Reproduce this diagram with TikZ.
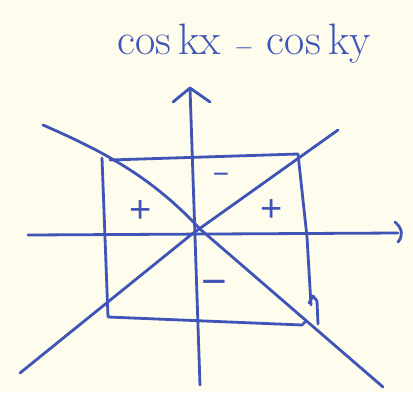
\documentclass[tikz,border=0pt]{standalone}
\usepackage{fontspec}
\newfontfamily\signfont{Liberation Sans}
\usetikzlibrary{arrows.meta}
\definecolor{ink}{RGB}{62,84,182}
\definecolor{paper}{RGB}{254,252,236}
\tikzset{
  pen/.style={draw=ink, line width=2.8pt, line cap=round, line join=round},
  sign/.style={text=ink, font=\signfont\fontsize{38}{40}\selectfont, inner sep=0pt},
  title/.style={text=ink, font=\fontsize{44}{48}\selectfont, inner sep=0pt}
}
\begin{document}
\begin{tikzpicture}[x=1pt,y=-1pt]
\fill[paper] (0,0) rectangle (413,392);
\useasboundingbox (0,0) rectangle (413,392);
% title
\node[title] (ttl) at (244,44) {cos\,kx $-$ cos\,ky};
% axes
\coordinate (yb) at (200,385);
\coordinate (yt) at (190,88);
\coordinate (xl) at (28,235);
\coordinate (xr) at (398,233);
\draw[pen] (yb) -- (yt);
\draw[pen] (173,102) -- (yt) -- (210,102);
\draw[pen] (xl) -- (xr);
\draw[pen] (395,222) .. controls (403,229) and (403,236) .. (398,242);
% square
\coordinate (tl) at (110,160);
\coordinate (tr) at (298,154);
\coordinate (br) at (302,325);
\coordinate (bl) at (108,317);
\draw[pen] (tl) -- (tr) -- (307,237) -- (311,305);
\draw[pen] (102,158) -- (bl) -- (br) -- (305,322);
\draw[pen] (309,303) -- (313,296) -- (317,301) -- (318,324);
% diagonals
\coordinate (d1a) at (43,125);
\coordinate (d1b) at (383,387);
\coordinate (d2a) at (20,373);
\coordinate (d2b) at (338,130);
\draw[pen] (d1a) .. controls (100,150) and (150,175) .. (200,229) -- (d1b);
\draw[pen] (d2a) -- (192,234) -- (d2b);
% signs
\node[sign] (p1) at (141,212) {+};
\node[sign] (p2) at (272,211) {+};
\node[sign, font=\signfont\fontsize{28}{30}\selectfont] (m1) at (221,178) {−};
\node[sign, font=\signfont\fontsize{44}{46}\selectfont] (m2) at (214,288) {−};
\end{tikzpicture}
\end{document}
